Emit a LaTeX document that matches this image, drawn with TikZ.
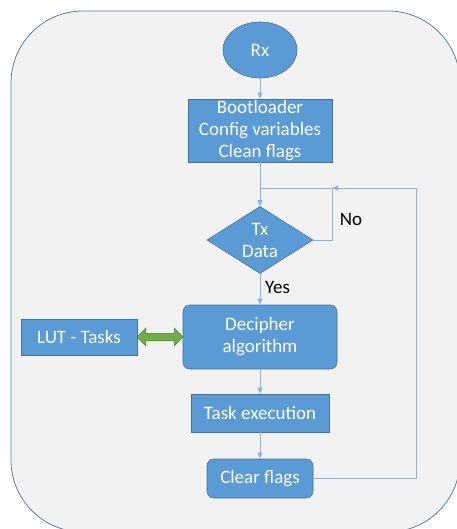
\documentclass[tikz,border=0pt]{standalone}
\usepackage{fontspec}
\setmainfont{Carlito}
\usetikzlibrary{shapes.geometric,shapes.arrows,arrows.meta,calc}
\definecolor{panel}{HTML}{F2F2F2}
\definecolor{panelline}{HTML}{5B7FA6}
\definecolor{boxfill}{HTML}{5B9BD5}
\definecolor{boxline}{HTML}{41719C}
\definecolor{flow}{HTML}{8DB3E2}
\definecolor{lutgreen}{HTML}{70AD47}
\definecolor{lutgreenline}{HTML}{507E32}
\begin{document}
\begin{tikzpicture}[x=1pt,y=-1pt,
  font=\fontsize{19}{22}\selectfont,
  blk/.style={draw=boxline, fill=boxfill, text=white, line width=0.6pt,
              align=center, inner sep=0pt},
  rbox/.style={blk, rectangle},
  rrbox/.style={blk, rectangle, rounded corners=7pt},
  flowline/.style={draw=flow, line width=0.8pt},
  flowarrow/.style={flowline, -{Triangle[length=6pt,width=5pt]}},
  lbl/.style={text=black, inner sep=0pt}]
\useasboundingbox (0,0) rectangle (456,529);

% panel behind the flow chart
\draw[fill=panel, draw=panelline, line width=0.8pt, rounded corners=72pt]
  (11,11) rectangle (460,532);

% blocks
\node[blk, ellipse, minimum width=74pt, minimum height=56pt] (rx) at (260,50) {Rx};
\node[rbox, minimum width=144pt, minimum height=63pt] (boot) at (260,130.5)
  {Bootloader\\Config variables\\Clean flags};
\node[blk, diamond, minimum width=106pt, minimum height=67pt] (tx) at (260,240) {};
\node[text=white, align=center, inner sep=0pt] (txtext) at (tx) {Tx\\Data};
\node[rrbox, minimum width=154pt, minimum height=64pt] (dec) at (260,337)
  {Decipher\\algorithm};
\node[rbox, minimum width=116pt, minimum height=36pt] (lut) at (79,337) {LUT - Tasks};
\node[rbox, minimum width=138pt, minimum height=38pt] (task) at (260,413) {Task execution};
\node[rrbox, minimum width=106pt, minimum height=39pt] (clr) at (260,478.5) {Clear flags};

% two-way link between the table and the decoder
\node[double arrow, fill=lutgreen, draw=lutgreenline, line width=0.5pt,
      inner xsep=0pt, inner ysep=3.5pt, minimum height=46pt, minimum width=17pt,
      double arrow head extend=5pt, double arrow tip angle=90]
  (link) at ($(lut.east)!0.5!(dec.west)$) {};

% loop-back points
\coordinate (merge) at (260,188);
\coordinate (nocorner) at (332,188);
\coordinate (loopx) at (416,188);

% connectors
\draw[flowarrow] (rx) -- (boot);
\draw[flowarrow] (boot.south) -- (tx.north);
\draw[flowline] (tx.east) -| (nocorner) -- (merge);
\draw[flowarrow] (clr.east) -| (loopx) -- (nocorner);
\draw[flowarrow] (tx.south) -- (dec.north);
\draw[flowarrow] (dec) -- (task);
\draw[flowarrow] (task) -- (clr);

% branch labels
\node[lbl] (nolbl) at (351,219) {No};
\node[lbl, anchor=west] (yeslbl) at (265,287) {Yes};
\end{tikzpicture}
\end{document}
